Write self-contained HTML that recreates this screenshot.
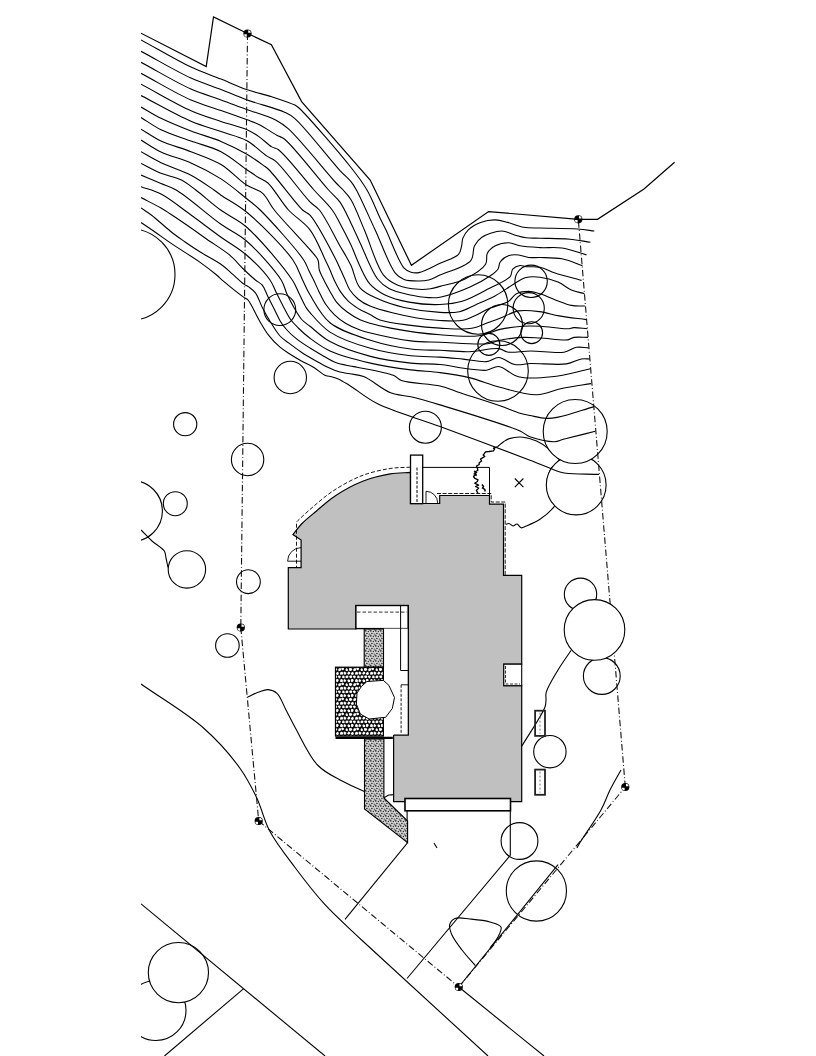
<!DOCTYPE html>
<html><head><meta charset="utf-8"><style>
html,body{margin:0;padding:0;background:#fff;}
body{width:816px;height:1056px;overflow:hidden;font-family:"Liberation Sans",sans-serif;}
svg{display:block;}
</style></head><body>
<svg width="816" height="1056" viewBox="0 0 816 1056">
<defs>
<clipPath id="clip"><rect x="141" y="0" width="675" height="1056"/></clipPath>
<pattern id="stip" width="5" height="5" patternUnits="userSpaceOnUse">
<rect width="5" height="5" fill="#d4d4d4"/>
<circle cx="0.8" cy="0.9" r="0.8" fill="#222"/><circle cx="3.4" cy="1.5" r="0.75" fill="#333"/>
<circle cx="1.9" cy="3.5" r="0.8" fill="#222"/><circle cx="4.3" cy="4.1" r="0.7" fill="#333"/>
<circle cx="4.6" cy="0.1" r="0.45" fill="#444"/><circle cx="0.2" cy="4.8" r="0.45" fill="#444"/>
</pattern>
<pattern id="stone" width="15" height="15" patternUnits="userSpaceOnUse">
<rect width="15" height="15" fill="#0a0a0a"/>
<path d="M1.8,3.3 L0.5,2.7 L0.6,1.3 L1.6,0.6 L3.3,0.8 L3.3,2.6 Z" fill="#fff"/>
<path d="M1.8,18.3 L0.5,17.7 L0.6,16.3 L1.6,15.6 L3.3,15.8 L3.3,17.6 Z" fill="#fff"/>
<path d="M16.8,3.3 L15.5,2.7 L15.6,1.3 L16.6,0.6 L18.3,0.8 L18.3,2.6 Z" fill="#fff"/>
<path d="M16.8,18.3 L15.5,17.7 L15.6,16.3 L16.6,15.6 L18.3,15.8 L18.3,17.6 Z" fill="#fff"/>
<path d="M5.3,3.1 L4.3,2.2 L4.2,1.2 L5.1,0.4 L6.8,0.6 L7.2,2.1 L6.4,3.3 Z" fill="#fff"/>
<path d="M5.3,18.1 L4.3,17.2 L4.2,16.2 L5.1,15.4 L6.8,15.6 L7.2,17.1 L6.4,18.3 Z" fill="#fff"/>
<path d="M7.7,1.4 L8.3,0.7 L9.5,0.4 L10.8,1.2 L10.6,2.6 L9.4,3.5 L8.8,3.0 Z" fill="#fff"/>
<path d="M7.7,16.4 L8.3,15.7 L9.5,15.4 L10.8,16.2 L10.6,17.6 L9.4,18.5 L8.8,18.0 Z" fill="#fff"/>
<path d="M-0.7,3.3 L-2.5,2.9 L-3.0,2.3 L-2.4,0.4 L-1.6,0.4 L-0.6,0.9 L-0.3,2.5 Z" fill="#fff"/>
<path d="M-0.7,18.3 L-2.5,17.9 L-3.0,17.3 L-2.4,15.4 L-1.6,15.4 L-0.6,15.9 L-0.3,17.5 Z" fill="#fff"/>
<path d="M14.3,3.3 L12.5,2.9 L12.0,2.3 L12.6,0.4 L13.4,0.4 L14.4,0.9 L14.7,2.5 Z" fill="#fff"/>
<path d="M14.3,18.3 L12.5,17.9 L12.0,17.3 L12.6,15.4 L13.4,15.4 L14.4,15.9 L14.7,17.5 Z" fill="#fff"/>
<path d="M2.3,5.4 L3.2,4.2 L5.0,5.0 L5.1,6.9 L3.2,7.3 Z" fill="#fff"/>
<path d="M6.7,7.2 L5.8,5.9 L6.1,4.3 L7.0,4.0 L8.1,4.1 L8.7,5.5 L7.9,6.7 Z" fill="#fff"/>
<path d="M-1.8,6.2 L-2.9,7.0 L-4.5,6.9 L-5.0,5.9 L-4.4,4.3 L-3.2,4.1 L-2.4,4.8 Z" fill="#fff"/>
<path d="M13.2,6.2 L12.1,7.0 L10.5,6.9 L10.0,5.9 L10.6,4.3 L11.8,4.1 L12.6,4.8 Z" fill="#fff"/>
<path d="M0.6,6.7 L-0.9,7.1 L-1.6,6.2 L-1.2,4.6 L-0.2,4.0 L1.3,5.4 Z" fill="#fff"/>
<path d="M15.6,6.7 L14.1,7.1 L13.4,6.2 L13.8,4.6 L14.8,4.0 L16.3,5.4 Z" fill="#fff"/>
<path d="M0.9,11.0 L0.5,9.3 L1.8,8.1 L3.0,9.8 L2.6,10.9 Z" fill="#fff"/>
<path d="M15.9,11.0 L15.5,9.3 L16.8,8.1 L18.0,9.8 L17.6,10.9 Z" fill="#fff"/>
<path d="M5.4,10.9 L4.1,10.6 L4.0,8.5 L4.8,8.1 L6.6,8.3 L7.3,9.5 L6.7,10.6 Z" fill="#fff"/>
<path d="M8.6,11.2 L8.2,9.7 L8.8,8.6 L10.4,8.1 L10.9,8.8 L11.2,10.2 L9.8,11.0 Z" fill="#fff"/>
<path d="M-3.9,8.8 L-2.9,7.5 L-1.0,8.2 L-1.3,10.0 L-2.8,10.3 Z" fill="#fff"/>
<path d="M11.1,8.8 L12.1,7.5 L14.0,8.2 L13.7,10.0 L12.2,10.3 Z" fill="#fff"/>
<path d="M2.2,-1.3 L3.3,-3.4 L5.1,-2.7 L5.4,-1.4 L3.5,-0.2 Z" fill="#fff"/>
<path d="M2.2,13.7 L3.3,11.6 L5.1,12.3 L5.4,13.6 L3.5,14.8 Z" fill="#fff"/>
<path d="M5.9,-0.8 L6.1,-2.3 L8.0,-3.2 L8.9,-1.8 L8.5,-0.5 L7.4,0.0 Z" fill="#fff"/>
<path d="M5.9,14.2 L6.1,12.7 L8.0,11.8 L8.9,13.2 L8.5,14.5 L7.4,15.0 Z" fill="#fff"/>
<path d="M-1.9,-0.8 L-2.5,-0.4 L-4.5,-0.2 L-5.0,-1.1 L-4.7,-2.7 L-3.2,-3.2 L-2.2,-2.8 Z" fill="#fff"/>
<path d="M-1.9,14.2 L-2.5,14.6 L-4.5,14.8 L-5.0,13.9 L-4.7,12.3 L-3.2,11.8 L-2.2,12.2 Z" fill="#fff"/>
<path d="M13.1,-0.8 L12.5,-0.4 L10.5,-0.2 L10.0,-1.1 L10.3,-2.7 L11.8,-3.2 L12.8,-2.8 Z" fill="#fff"/>
<path d="M13.1,14.2 L12.5,14.6 L10.5,14.8 L10.0,13.9 L10.3,12.3 L11.8,11.8 L12.8,12.2 Z" fill="#fff"/>
<path d="M-1.1,-0.7 L-1.5,-2.0 L-1.4,-2.8 L-0.2,-3.5 L1.0,-2.6 L1.4,-1.5 L0.3,-0.2 Z" fill="#fff"/>
<path d="M-1.1,14.3 L-1.5,13.0 L-1.4,12.2 L-0.2,11.5 L1.0,12.4 L1.4,13.5 L0.3,14.8 Z" fill="#fff"/>
<path d="M13.9,-0.7 L13.5,-2.0 L13.6,-2.8 L14.8,-3.5 L16.0,-2.6 L16.4,-1.5 L15.3,-0.2 Z" fill="#fff"/>
<path d="M13.9,14.3 L13.5,13.0 L13.6,12.2 L14.8,11.5 L16.0,12.4 L16.4,13.5 L15.3,14.8 Z" fill="#fff"/>
</pattern>
</defs>

<g clip-path="url(#clip)">
<path d="M497.4,446.8 C499.5,445.1 501.5,443.1 503.6,441.7 C505.5,440.4 506.8,439.3 509.2,438.6 C512.7,437.5 518.5,436.8 523.0,437.2 C527.6,437.6 532.3,439.2 536.6,441.1 C540.9,443.1 544.9,445.7 548.6,448.9 C552.7,452.5 560.4,458.7 560.0,462.0 C559.7,464.5 553.7,464.9 551.6,467.6 C549.2,470.7 548.5,475.9 547.0,480.0" fill="none" stroke="#000" stroke-width="1.1"/>
<path d="M558.0,500.0 C556.6,502.4 555.9,504.7 553.8,507.2 C550.7,510.9 544.8,516.0 540.0,519.2 C535.6,522.1 529.8,524.5 526.3,526.0 C524.2,526.9 522.7,528.1 521.2,527.8 C519.6,527.5 518.5,524.2 517.0,524.0 C515.7,523.8 514.3,526.1 513.0,526.0 C511.6,525.9 510.3,523.7 509.0,523.5 C507.9,523.3 506.9,524.0 505.8,524.3" fill="none" stroke="#000" stroke-width="1.1"/>
<path d="M478.0,493.4 L476.4,490.5 L478.6,488.0 L475.5,486.5 L478.6,485.2 L474.7,483.2 L477.4,481.5 L478.0,479.8 L474.5,478.2 L473.5,476.4 L476.0,474.5 L474.7,471.8 L477.8,470.5 L477.5,468.4 L476.5,466.0 L479.2,464.5 L479.2,462.7 L481.6,461.0 L480.5,459.0 L482.0,458.2 L484.8,456.5 L483.2,455.0 L484.3,453.6 L485.5,451.9 L489.0,451.5 L493.4,450.8 L494.5,449.1 L493.5,448.2 L497.4,446.8" fill="none" stroke="#000" stroke-width="1.35" stroke-linejoin="round"/>
<path d="M482.0,484.5 L483.5,486.5 L482.6,488.0 L484.8,489.5 L485.2,491.5" fill="none" stroke="#000" stroke-width="1.5"/>
<path d="M474.0,471.0 L476.5,472.5 L474.2,474.0 L476.8,475.5" fill="none" stroke="#000" stroke-width="1.2"/>
<circle cx="576.2" cy="485.0" r="29.9" fill="#fff" stroke="#000" stroke-width="1.1"/>
<circle cx="575.2" cy="431.5" r="32.0" fill="#fff" stroke="#000" stroke-width="1.1"/>
<path d="M141.0,39.9 C157.7,49.0 176.3,60.2 191.0,67.1 C202.1,72.3 211.4,75.2 221.0,79.1 C229.9,82.7 237.9,86.5 246.5,89.5 C254.8,92.4 263.5,94.1 271.7,96.7 C279.6,99.3 290.4,102.8 294.9,105.1 C296.9,106.2 297.0,106.2 299.0,108.0 C306.8,115.1 338.9,152.2 351.0,167.5 C358.2,176.6 362.3,181.9 367.0,190.0 C372.0,198.6 376.5,210.5 380.0,217.9 C382.3,222.8 383.5,224.8 386.0,230.0 C390.4,239.2 398.6,262.2 404.1,268.2 C406.5,270.8 408.5,271.5 411.0,272.2 C413.4,272.9 415.6,273.2 418.8,272.6 C424.2,271.6 433.2,266.4 440.0,263.3 C446.4,260.4 455.1,258.2 458.5,254.4 C460.8,251.9 460.9,248.6 461.6,245.8 C462.3,243.3 461.9,240.9 462.8,238.4 C463.9,235.5 465.7,232.3 468.3,229.8 C471.4,226.8 476.1,224.1 480.6,222.4 C485.2,220.7 490.7,219.8 495.4,219.9 C499.7,220.0 503.4,221.3 507.7,222.4 C512.7,223.7 518.3,226.4 523.7,227.3 C529.1,228.2 533.4,227.8 540.0,228.0 C550.0,228.3 567.6,228.3 577.6,229.0 C584.3,229.5 588.7,230.3 594.3,231.0" fill="none" stroke="#000" stroke-width="1.1"/>
<path d="M141.0,51.3 C157.7,60.2 176.3,71.4 191.0,78.1 C202.1,83.1 211.4,85.7 221.0,89.4 C229.9,92.9 237.1,96.3 246.5,99.7 C257.9,103.9 276.1,108.2 284.6,112.2 C289.3,114.4 290.6,114.9 294.9,118.6 C305.1,127.3 329.9,159.7 340.0,170.6 C344.8,175.8 348.1,178.1 351.0,181.7 C353.3,184.5 354.2,186.1 356.4,190.0 C361.0,198.3 368.8,216.4 375.2,230.0 C381.8,244.1 389.0,265.4 395.3,273.1 C398.3,276.8 400.6,278.2 404.1,279.5 C408.2,281.1 414.4,281.0 418.8,281.0 C422.4,281.0 425.3,280.9 428.6,280.0 C432.3,279.0 435.3,277.2 440.0,275.1 C447.8,271.6 465.6,267.0 470.8,260.6 C474.3,256.3 472.4,249.9 474.5,245.8 C476.3,242.3 478.4,239.5 481.9,237.2 C486.6,234.1 495.8,231.0 501.6,231.0 C506.2,231.0 509.8,233.6 513.9,234.7 C518.0,235.8 521.9,237.2 526.2,237.8 C530.6,238.4 534.5,238.0 540.0,238.2 C548.0,238.5 560.8,238.4 569.8,239.2 C577.3,239.9 583.5,241.2 590.4,242.2" fill="none" stroke="#000" stroke-width="1.1"/>
<path d="M141.0,62.3 C157.7,71.2 176.2,82.5 191.0,89.1 C202.1,94.0 211.4,96.4 221.0,99.9 C229.9,103.1 237.7,106.2 246.5,109.4 C255.9,112.8 268.0,116.0 275.6,119.9 C281.0,122.7 283.2,124.2 288.5,128.9 C299.8,139.0 327.2,173.5 336.1,183.0 C339.4,186.5 340.9,187.4 343.2,190.0 C345.8,192.9 348.3,195.3 351.0,199.7 C355.3,206.8 359.6,218.9 364.4,230.0 C370.3,243.5 376.2,266.0 383.5,275.1 C387.8,280.4 391.9,282.6 397.3,284.9 C403.4,287.6 412.7,288.8 418.8,289.3 C423.3,289.7 426.9,289.3 430.6,288.8 C433.9,288.3 436.1,287.5 440.0,286.4 C446.3,284.7 457.4,282.7 465.0,279.0 C472.5,275.3 482.3,269.6 485.6,264.3 C487.8,260.8 485.7,256.3 487.4,253.2 C489.0,250.2 492.1,247.5 495.4,245.8 C499.1,243.8 504.7,242.6 509.0,242.7 C512.9,242.8 515.7,245.0 520.0,245.8 C525.6,246.8 533.2,247.2 540.0,247.6 C547.2,248.0 554.5,246.9 562.0,248.0 C570.0,249.2 578.3,252.6 586.5,254.9" fill="none" stroke="#000" stroke-width="1.1"/>
<path d="M141.0,73.3 C157.7,82.2 176.2,93.6 191.0,100.1 C202.1,104.9 211.4,107.1 221.0,110.5 C229.9,113.6 239.5,117.0 246.5,119.6 C251.4,121.4 254.5,122.2 258.9,124.4 C264.5,127.1 272.1,132.6 276.9,135.3 C280.0,137.0 281.3,136.6 284.6,139.2 C293.7,146.3 318.6,179.0 328.6,190.0 C333.6,195.5 336.5,197.2 340.0,202.1 C344.1,207.9 347.6,216.3 351.0,223.2 C354.2,229.8 356.5,235.2 360.0,242.7 C364.9,253.0 371.4,271.1 377.6,279.0 C381.4,283.9 384.7,286.3 389.4,288.8 C394.9,291.7 402.4,293.2 409.0,294.7 C415.5,296.1 422.9,297.3 428.6,297.6 C432.9,297.8 435.4,298.0 440.0,297.2 C447.7,295.8 461.2,290.9 470.0,287.0 C477.5,283.7 485.0,279.5 490.0,276.0 C493.4,273.6 496.2,271.8 497.9,269.2 C499.4,267.0 498.7,263.9 500.3,261.8 C502.1,259.3 505.8,256.7 509.0,255.6 C512.0,254.5 515.5,254.7 518.8,255.0 C522.1,255.3 525.3,257.1 528.7,257.5 C532.3,257.9 535.6,257.4 540.0,257.5 C546.1,257.7 554.9,257.4 562.0,258.8 C569.0,260.2 575.7,263.4 582.5,265.7" fill="none" stroke="#000" stroke-width="1.1"/>
<path d="M141.0,84.2 C157.7,93.0 176.2,104.2 191.0,110.7 C202.1,115.6 211.4,118.2 221.0,121.4 C229.8,124.4 239.6,126.5 246.5,129.5 C251.5,131.7 254.8,133.8 258.9,136.6 C263.3,139.6 268.0,144.7 271.7,146.9 C274.1,148.3 275.5,147.6 278.2,149.5 C285.8,154.8 304.0,178.9 314.0,190.0 C321.1,197.9 327.6,203.8 332.2,210.0 C335.7,214.7 337.3,218.4 340.0,223.4 C343.4,229.7 347.6,237.8 351.0,245.0 C354.3,252.1 356.7,259.6 360.0,266.3 C363.0,272.5 365.6,279.1 369.8,283.9 C373.8,288.5 378.7,291.8 384.5,294.7 C391.4,298.1 400.3,300.5 409.0,302.1 C418.6,303.9 430.5,304.9 440.0,304.5 C448.3,304.2 455.2,303.4 463.0,301.0 C471.8,298.3 481.7,292.3 490.0,288.0 C497.3,284.2 506.8,280.7 510.2,276.6 C512.2,274.2 511.1,271.0 512.7,269.2 C514.3,267.3 517.6,265.8 520.0,265.5 C522.1,265.2 523.7,266.4 526.2,266.7 C529.9,267.1 535.4,266.3 540.0,267.3 C545.0,268.3 549.2,271.1 555.0,273.0 C562.6,275.5 572.7,277.9 581.6,280.4" fill="none" stroke="#000" stroke-width="1.1"/>
<path d="M141.0,95.6 C157.7,104.2 176.2,115.0 191.0,121.3 C202.1,126.0 211.4,128.3 221.0,131.6 C229.8,134.7 238.8,136.3 246.5,140.5 C254.0,144.5 261.1,152.2 266.6,155.9 C270.1,158.2 272.0,158.1 275.6,161.1 C283.8,168.0 301.9,193.7 310.0,201.9 C313.9,205.9 316.0,205.9 319.4,210.0 C325.5,217.4 334.2,235.7 340.0,245.9 C344.3,253.4 347.7,258.7 351.0,265.6 C354.4,272.7 355.1,282.1 360.0,287.8 C364.8,293.4 372.5,296.4 379.6,299.6 C387.1,303.0 395.1,305.4 404.1,307.5 C414.8,309.9 429.8,311.9 440.0,312.4 C447.4,312.8 453.4,313.0 459.4,311.7 C465.1,310.4 469.8,307.4 475.4,304.9 C481.6,302.2 488.6,299.4 495.0,296.0 C501.5,292.5 508.4,287.3 513.9,284.0 C518.1,281.5 520.9,279.0 525.0,277.8 C529.5,276.5 534.8,276.6 540.0,277.2 C545.8,277.8 552.6,279.7 558.0,282.0 C563.0,284.1 566.8,288.0 571.4,290.0 C575.6,291.8 580.1,292.5 584.4,293.7" fill="none" stroke="#000" stroke-width="1.1"/>
<path d="M141.0,107.0 C147.7,110.8 153.5,114.6 161.0,118.3 C169.9,122.7 180.9,127.1 191.0,131.0 C200.9,134.8 211.5,137.4 221.0,141.4 C230.0,145.2 239.1,149.7 246.5,154.0 C252.6,157.6 258.6,161.9 262.7,164.9 C265.4,166.9 266.4,167.3 269.2,170.0 C276.3,176.9 295.1,203.1 302.6,210.0 C305.7,212.9 307.2,212.1 310.0,215.2 C316.7,222.5 331.1,250.3 336.1,260.0 C338.4,264.5 339.2,266.8 340.7,270.0 C342.1,273.0 343.2,275.6 344.6,278.6 C346.2,282.1 347.5,286.3 349.7,289.7 C352.0,293.2 355.0,296.5 358.3,299.2 C361.7,302.0 364.6,303.8 370.0,306.0 C380.2,310.2 403.8,315.7 416.8,318.0 C425.8,319.6 432.3,320.1 440.0,320.5 C447.7,320.9 456.7,321.6 463.1,320.3 C467.9,319.3 471.2,317.3 475.4,315.4 C479.9,313.4 484.0,310.8 489.0,308.6 C494.9,306.0 503.9,304.2 508.7,301.2 C512.1,299.0 513.2,295.4 516.4,293.8 C519.8,292.0 524.7,291.4 528.7,291.4 C532.5,291.4 536.0,292.6 540.0,293.8 C544.8,295.2 550.2,298.0 555.4,299.9 C560.7,301.8 566.2,304.4 571.4,305.4 C576.1,306.3 580.5,305.8 585.0,306.0" fill="none" stroke="#000" stroke-width="1.1"/>
<path d="M141.0,117.5 C147.7,121.6 153.5,126.0 161.0,129.7 C169.8,134.0 181.0,137.3 191.0,141.0 C201.0,144.7 211.7,146.9 221.0,151.7 C230.2,156.4 239.5,164.7 246.5,169.5 C251.4,172.8 255.1,175.4 258.9,177.8 C262.1,179.8 264.6,180.1 267.9,183.0 C273.8,188.2 281.2,202.0 288.5,210.0 C295.3,217.4 304.0,221.9 310.0,229.8 C316.5,238.3 321.7,252.6 325.3,260.0 C327.4,264.2 328.5,266.6 330.0,270.0 C331.5,273.4 332.6,276.8 334.3,280.3 C336.1,284.0 338.0,287.9 340.3,291.4 C342.6,294.8 345.0,298.1 348.0,300.9 C351.0,303.8 354.7,306.3 358.3,308.6 C362.0,310.9 366.3,312.6 370.0,314.6 C373.4,316.4 375.5,318.5 379.9,320.0 C387.2,322.6 400.7,324.0 410.9,325.4 C420.7,326.7 430.1,327.6 440.0,328.1 C450.3,328.6 462.8,329.8 471.7,328.3 C478.4,327.2 483.9,324.0 489.0,322.2 C493.1,320.8 495.9,319.9 500.0,318.3 C505.4,316.3 512.0,312.0 518.5,310.9 C525.1,309.7 532.6,310.7 539.4,311.6 C546.1,312.4 552.0,314.6 559.1,315.9 C567.4,317.4 577.2,318.4 586.2,319.6" fill="none" stroke="#000" stroke-width="1.1"/>
<path d="M141.0,129.1 C147.7,133.1 153.5,137.5 161.0,141.1 C169.8,145.2 181.1,147.8 191.0,151.7 C201.1,155.6 211.8,159.0 221.0,164.5 C230.3,170.1 238.7,180.0 246.5,185.0 C252.3,188.8 258.1,189.3 262.7,193.3 C267.5,197.5 269.1,203.4 274.3,210.0 C282.7,220.6 302.5,240.7 310.0,249.7 C313.7,254.2 316.5,256.4 318.0,260.0 C319.3,263.2 318.4,266.7 319.3,270.0 C320.3,273.5 322.3,276.8 324.0,280.3 C325.8,284.0 327.9,287.7 330.0,291.4 C332.2,295.2 334.1,299.2 336.9,302.6 C339.8,306.1 343.4,309.2 347.2,312.0 C351.1,314.9 355.9,317.8 360.0,319.7 C363.5,321.3 366.0,322.0 370.0,323.2 C375.6,324.8 382.2,326.5 390.6,328.1 C403.5,330.5 424.5,333.6 440.0,334.8 C453.8,335.9 468.2,337.2 479.1,335.7 C487.3,334.6 492.9,331.0 500.0,329.4 C507.2,327.8 515.1,326.8 522.2,326.3 C528.6,325.9 533.9,326.0 540.6,326.3 C548.8,326.7 561.9,329.1 567.7,328.8 C570.5,328.7 571.4,327.7 573.9,327.6 C577.5,327.4 582.9,328.4 587.4,328.8" fill="none" stroke="#000" stroke-width="1.1"/>
<path d="M141.0,140.0 C147.7,144.0 153.5,148.4 161.0,152.0 C169.8,156.2 181.1,158.6 191.0,163.0 C201.2,167.5 211.6,172.9 221.0,178.9 C230.1,184.8 239.4,192.8 246.5,198.5 C251.8,202.8 254.6,204.5 260.2,210.0 C270.9,220.6 296.7,249.4 303.7,260.0 C306.6,264.4 307.0,266.8 308.6,270.0 C310.1,273.0 311.4,275.4 312.9,278.6 C314.8,282.4 316.8,287.1 318.9,291.4 C321.0,295.7 323.1,300.4 325.7,304.3 C328.2,308.1 331.1,311.5 334.3,314.6 C337.6,317.8 341.4,320.7 345.5,323.2 C349.9,325.9 355.5,328.3 360.0,330.0 C363.7,331.4 365.8,331.9 370.4,333.0 C379.4,335.2 398.5,339.4 410.9,340.9 C421.4,342.1 429.1,341.8 440.0,342.2 C453.9,342.7 477.1,345.0 487.7,343.7 C493.2,343.0 495.3,341.3 500.0,340.3 C506.3,339.0 515.1,337.7 522.2,337.4 C528.6,337.1 533.9,337.7 540.6,338.0 C548.8,338.4 561.9,340.8 567.7,339.9 C570.6,339.4 571.4,337.9 573.9,337.4 C577.6,336.7 583.3,337.4 588.0,337.4" fill="none" stroke="#000" stroke-width="1.1"/>
<path d="M141.0,151.7 C147.7,155.4 153.6,159.1 161.0,162.7 C169.9,167.0 181.9,170.4 191.0,175.2 C199.4,179.6 208.6,186.3 214.0,190.0 C217.1,192.1 217.9,193.0 221.0,195.2 C226.8,199.3 237.2,204.3 246.5,212.0 C260.2,223.4 283.7,246.8 292.9,260.0 C298.2,267.6 299.6,273.8 302.6,280.0 C305.2,285.3 306.6,289.2 310.0,294.8 C314.8,302.8 320.9,315.3 330.0,322.7 C340.3,331.0 356.7,335.8 370.4,340.2 C383.7,344.5 398.4,347.4 410.9,349.0 C421.3,350.4 430.3,349.9 440.0,350.3 C449.8,350.8 459.5,352.0 469.3,351.7 C479.1,351.4 492.0,347.7 498.8,348.6 C502.6,349.1 503.7,351.4 507.4,352.0 C513.2,353.0 522.3,351.0 530.8,351.0 C540.9,351.0 555.7,353.6 564.0,352.2 C569.2,351.3 572.2,348.0 576.4,347.3 C580.4,346.6 584.6,347.7 588.7,347.9" fill="none" stroke="#000" stroke-width="1.1"/>
<path d="M141.0,163.5 C147.7,166.8 154.2,170.5 161.0,173.3 C167.7,176.0 175.5,177.0 181.5,180.0 C186.9,182.7 190.4,186.0 195.8,190.0 C203.1,195.5 212.4,204.1 221.0,210.3 C229.3,216.4 237.4,219.0 246.5,227.0 C260.3,239.1 284.1,267.7 292.3,280.0 C296.1,285.7 296.9,289.1 299.2,293.7 C301.5,298.3 303.9,304.0 306.0,307.4 C307.4,309.6 308.0,310.4 310.0,312.6 C314.0,317.1 321.5,326.6 330.0,332.1 C340.6,339.0 356.7,344.4 370.4,348.3 C383.7,352.1 398.5,354.3 410.9,355.7 C421.4,356.9 430.9,356.5 440.0,357.1 C448.1,357.6 455.4,358.4 463.1,359.1 C470.9,359.9 480.0,362.3 486.5,361.6 C491.3,361.1 494.5,357.3 498.8,357.5 C503.8,357.7 509.3,363.5 514.8,364.5 C520.0,365.4 524.4,363.7 530.8,363.5 C540.3,363.3 557.3,365.3 566.5,363.9 C572.6,363.0 577.0,359.7 581.3,359.0 C584.5,358.5 587.1,359.0 590.0,359.0" fill="none" stroke="#000" stroke-width="1.1"/>
<path d="M141.0,175.1 C147.7,177.9 154.8,180.9 161.0,183.5 C166.4,185.8 170.1,186.4 176.2,190.0 C187.5,196.6 208.0,215.1 221.0,224.3 C230.5,231.1 237.9,233.5 246.5,241.0 C257.8,250.8 274.7,269.7 281.2,280.0 C284.7,285.7 284.9,289.8 287.2,294.6 C289.5,299.5 292.3,304.8 294.9,309.2 C297.1,313.0 299.1,316.6 301.7,319.5 C304.2,322.2 306.6,323.6 310.0,326.3 C315.2,330.4 321.8,337.1 330.0,341.6 C340.8,347.5 356.8,352.8 370.4,356.4 C383.7,359.9 398.5,361.8 410.9,363.1 C421.4,364.2 430.3,363.5 440.0,364.5 C449.8,365.5 460.8,368.1 469.3,369.0 C475.8,369.7 481.3,370.8 486.5,370.2 C491.0,369.7 494.3,366.1 498.8,366.5 C504.7,367.1 510.8,374.9 518.5,376.8 C527.9,379.1 540.3,378.0 551.7,376.8 C564.2,375.5 577.6,371.5 590.5,368.8" fill="none" stroke="#000" stroke-width="1.1"/>
<path d="M141.0,186.7 C147.7,189.1 153.9,190.3 161.0,194.0 C170.3,198.8 181.0,207.8 191.0,215.0 C201.0,222.2 211.4,230.3 221.0,237.2 C229.8,243.5 238.5,248.1 246.5,255.0 C254.9,262.3 265.0,272.9 270.0,280.0 C273.1,284.5 273.9,287.9 276.0,292.0 C278.2,296.4 280.5,301.2 282.9,305.7 C285.3,310.3 287.8,315.6 290.6,319.5 C293.0,322.8 295.4,325.1 298.3,328.0 C301.7,331.4 305.4,334.9 310.0,338.3 C315.6,342.5 321.9,347.3 330.0,351.0 C340.9,356.0 356.8,359.9 370.4,363.1 C383.8,366.2 398.5,368.3 410.9,369.9 C421.4,371.3 430.3,371.3 440.0,372.6 C449.8,373.9 459.5,375.2 469.3,377.6 C479.5,380.1 489.2,384.5 500.0,387.3 C511.7,390.3 525.9,395.0 536.9,394.7 C546.0,394.5 553.0,390.3 561.6,388.5 C571.0,386.6 581.3,385.2 591.1,383.6" fill="none" stroke="#000" stroke-width="1.1"/>
<path d="M141.0,197.6 C147.7,201.1 155.6,204.9 161.0,208.0 C164.8,210.2 166.6,211.5 170.4,214.0 C176.2,217.8 185.9,224.4 192.5,229.0 C197.9,232.8 201.8,235.7 207.2,239.5 C213.8,244.1 222.8,249.4 229.2,254.7 C234.8,259.4 239.2,265.0 243.9,269.5 C247.9,273.4 252.0,277.2 255.4,280.0 C257.9,282.1 260.4,282.8 262.3,285.1 C264.5,287.7 265.6,291.7 267.4,295.4 C269.5,299.7 272.1,304.8 274.3,309.2 C276.4,313.3 278.1,317.6 280.3,321.2 C282.3,324.5 284.3,327.1 286.9,330.0 C289.8,333.2 293.5,336.5 297.2,339.4 C301.1,342.5 305.7,345.3 310.0,348.0 C314.3,350.7 318.6,353.2 322.9,355.7 C327.1,358.1 331.2,360.9 335.7,362.6 C340.2,364.3 346.1,365.2 350.0,366.0 C352.7,366.6 353.8,366.6 357.0,367.2 C364.4,368.7 385.7,372.1 393.3,375.3 C397.2,376.9 397.5,379.1 401.4,380.6 C409.3,383.6 429.8,383.6 440.0,386.0 C446.9,387.6 450.0,389.4 456.9,391.7 C468.0,395.4 488.4,401.7 500.0,405.8 C508.0,408.6 514.4,411.7 520.0,413.3 C523.9,414.4 526.3,414.8 530.0,415.5 C534.7,416.4 541.0,418.1 546.0,418.3 C550.4,418.5 553.2,418.1 558.3,417.1 C567.2,415.4 582.1,410.1 594.0,406.6" fill="none" stroke="#000" stroke-width="1.1"/>
<path d="M141.0,207.9 C144.4,210.3 147.4,212.0 151.3,215.0 C156.8,219.2 164.4,226.4 170.4,231.2 C175.5,235.3 180.2,238.5 185.1,242.0 C190.0,245.4 194.4,248.4 199.8,251.8 C206.4,256.0 216.1,260.8 221.9,265.0 C226.1,268.0 228.7,270.7 232.2,273.8 C236.0,277.1 240.8,281.8 243.9,284.1 C245.7,285.4 246.9,285.7 248.6,286.9 C250.7,288.5 253.4,290.2 255.4,292.9 C258.1,296.5 259.9,302.7 262.3,307.4 C264.7,312.1 267.2,316.6 270.0,321.2 C273.0,326.1 276.5,332.2 280.0,336.0 C282.8,339.0 285.4,340.5 288.6,342.9 C292.4,345.8 297.1,349.4 301.4,352.3 C305.6,355.1 310.0,357.6 314.3,360.0 C318.6,362.4 322.9,364.9 327.2,366.9 C331.4,368.9 335.9,370.8 340.0,372.0 C343.5,373.0 346.4,373.1 350.0,373.8 C354.2,374.6 358.6,374.6 363.7,376.6 C371.4,379.6 382.0,389.5 390.6,392.8 C397.6,395.5 403.6,395.1 410.9,396.8 C419.8,398.9 427.9,401.3 440.0,404.9 C460.1,411.0 506.2,424.8 520.0,431.0 C525.1,433.3 525.8,435.2 530.0,436.8 C536.2,439.2 548.5,441.9 554.6,441.7 C558.3,441.6 559.5,440.3 563.3,439.3 C570.6,437.4 584.6,434.0 595.3,431.3" fill="none" stroke="#000" stroke-width="1.1"/>
<path d="M141.0,222.5 C145.7,225.7 150.2,228.7 155.0,232.0 C160.0,235.5 164.4,238.8 170.4,242.9 C178.6,248.5 191.5,256.3 199.8,262.1 C206.1,266.6 211.7,270.9 216.0,274.5 C219.0,277.0 220.3,278.5 223.4,281.2 C228.5,285.5 239.7,294.5 243.9,297.4 C245.6,298.6 246.3,298.3 247.7,299.7 C251.0,303.1 256.0,314.9 259.7,321.2 C262.7,326.3 265.0,330.6 268.3,334.9 C271.7,339.3 276.2,344.0 280.0,347.2 C283.0,349.7 285.4,351.1 288.6,353.2 C292.4,355.7 297.1,358.5 301.4,360.9 C305.7,363.3 310.2,365.2 314.3,367.7 C318.2,370.1 322.2,374.1 325.5,375.5 C327.7,376.4 329.5,376.2 331.5,376.7 C333.7,377.3 335.8,377.8 338.3,378.9 C341.7,380.4 345.3,382.8 350.0,385.7 C357.2,390.2 365.9,397.9 377.2,403.6 C393.5,411.8 417.2,418.1 440.0,426.5 C467.3,436.6 508.1,451.8 530.0,460.2 C542.7,465.1 553.8,470.1 560.0,472.0 C562.7,472.8 563.2,472.9 566.0,473.3 C572.6,474.1 588.0,474.0 599.0,474.4" fill="none" stroke="#000" stroke-width="1.1"/>
<path d="M141.0,33.2 L206.2,66.5 L213.5,17.0 L247.5,33.5 L271.4,44.6 L301.6,101.6 L370.2,180.0 L411.4,265.3 L488.6,211.6 L578.3,219.3 L597.5,219.3 L644.0,188.9 L674.6,162.3" fill="none" stroke="#000" stroke-width="1.2" stroke-linejoin="miter"/>
<circle cx="129.0" cy="274.5" r="46.0" fill="none" stroke="#000" stroke-width="1.1"/>
<circle cx="279.8" cy="309.6" r="15.9" fill="none" stroke="#000" stroke-width="1.1"/>
<circle cx="290.3" cy="377.5" r="16.2" fill="none" stroke="#000" stroke-width="1.1"/>
<circle cx="185.2" cy="424.2" r="11.6" fill="none" stroke="#000" stroke-width="1.1"/>
<circle cx="247.6" cy="459.5" r="16.2" fill="none" stroke="#000" stroke-width="1.1"/>
<circle cx="132.0" cy="511.0" r="30.4" fill="none" stroke="#000" stroke-width="1.1"/>
<circle cx="175.3" cy="503.7" r="12.0" fill="none" stroke="#000" stroke-width="1.1"/>
<circle cx="186.9" cy="569.4" r="18.7" fill="none" stroke="#000" stroke-width="1.1"/>
<circle cx="248.4" cy="581.7" r="11.9" fill="none" stroke="#000" stroke-width="1.1"/>
<circle cx="227.4" cy="645.5" r="11.8" fill="none" stroke="#000" stroke-width="1.1"/>
<circle cx="425.4" cy="427.2" r="16.0" fill="none" stroke="#000" stroke-width="1.1"/>
<circle cx="478.1" cy="304.5" r="29.7" fill="none" stroke="#000" stroke-width="1.1"/>
<circle cx="531.1" cy="281.3" r="16.2" fill="none" stroke="#000" stroke-width="1.1"/>
<circle cx="528.7" cy="308.2" r="15.6" fill="none" stroke="#000" stroke-width="1.1"/>
<circle cx="502.0" cy="325.0" r="20.5" fill="none" stroke="#000" stroke-width="1.1"/>
<circle cx="531.7" cy="332.7" r="10.9" fill="none" stroke="#000" stroke-width="1.1"/>
<circle cx="488.8" cy="344.4" r="11.0" fill="none" stroke="#000" stroke-width="1.1"/>
<circle cx="498.0" cy="371.0" r="30.3" fill="none" stroke="#000" stroke-width="1.1"/>
<circle cx="549.9" cy="751.7" r="16.2" fill="none" stroke="#000" stroke-width="1.1"/>
<circle cx="519.5" cy="841.0" r="18.4" fill="none" stroke="#000" stroke-width="1.1"/>
<circle cx="536.4" cy="891.0" r="30.1" fill="none" stroke="#000" stroke-width="1.1"/>
<circle cx="156.0" cy="1010.5" r="30.0" fill="none" stroke="#000" stroke-width="1.1"/>
<circle cx="601.8" cy="676.0" r="18.4" fill="none" stroke="#000" stroke-width="1.1"/>
<circle cx="580.5" cy="594.3" r="16.2" fill="none" stroke="#000" stroke-width="1.1"/>
<circle cx="178.4" cy="972.6" r="30.1" fill="#fff" stroke="#000" stroke-width="1.1"/>
<path d="M141.0,684.0 C161.8,698.7 186.1,712.6 203.5,728.0 C218.2,741.0 231.0,755.7 240.3,768.7 C247.6,778.8 251.9,787.8 256.8,798.0 C261.8,808.5 263.9,820.0 269.7,831.0 C276.3,843.4 286.3,855.9 295.4,868.0 C304.7,880.4 314.2,892.9 325.0,904.7 C336.2,916.9 349.4,928.2 361.6,940.0 L488,1056" fill="none" stroke="#000" stroke-width="1.1"/>
<path d="M141,903.8 L325,1056" fill="none" stroke="#000" stroke-width="1.1"/>
<path d="M243.4,988.8 L164.5,1056" fill="none" stroke="#000" stroke-width="1.1"/>
<path d="M458.8,987 L544,1056" fill="none" stroke="#000" stroke-width="1.1"/>
<path d="M407.1,811 L407.1,843.3 L345,919.4" fill="none" stroke="#000" stroke-width="1.1"/>
<path d="M510.3,811 L510.3,855.4 L407,978.5" fill="none" stroke="#000" stroke-width="1.1"/>
<path d="M558,864.6 L458.8,987" fill="none" stroke="#000" stroke-width="1.1"/>
<path d="M621.0,770.0 C617.3,776.7 613.4,783.3 610.0,790.0 C606.7,796.6 605.0,802.7 601.0,810.0 C595.7,819.7 583.8,836.1 580.0,842.5 C578.5,845.1 578.0,846.2 577.0,848.0" fill="none" stroke="#000" stroke-width="1.1"/>
<path d="M141.0,530.0 C144.7,533.7 148.1,537.5 152.0,541.0 C155.9,544.5 162.1,547.6 164.3,551.0 C165.8,553.3 165.4,555.5 166.0,558.0 C166.7,560.9 167.3,564.3 168.0,567.5" fill="none" stroke="#000" stroke-width="1.1"/>
<path d="M247.6,697.0 C251.4,695.3 255.4,693.3 259.0,692.0 C262.1,690.9 265.0,689.4 268.0,689.6 C271.0,689.8 274.4,690.9 277.0,693.3 C280.7,696.6 283.0,704.3 286.0,710.0 C289.1,715.9 291.5,721.0 295.4,728.0 C301.1,738.2 309.0,756.1 317.5,765.0 C324.2,772.0 330.7,775.0 339.6,779.7 C351.5,786.0 377.7,798.0 383.4,797.8 C384.8,797.7 385.1,796.9 386.0,796.5 C387.0,796.0 387.9,795.3 389.0,795.0 C390.2,794.7 391.7,794.9 393.0,794.8" fill="none" stroke="#000" stroke-width="1.1"/>
<path d="M571.2,650.2 C566.8,656.8 562.1,663.1 558.0,670.0 C553.8,677.1 547.7,686.8 546.2,692.4 C545.4,695.5 546.2,697.5 546.0,700.0 C545.8,702.4 546.1,703.9 545.0,707.0 C542.2,715.0 529.5,733.2 521.7,746.3" fill="none" stroke="#000" stroke-width="1.1"/>
<path d="M514.8,478.5 L523.4,487.1 M523.4,478.5 L514.8,487.1" fill="none" stroke="#000" stroke-width="1.1"/>
<path d="M475.4,965.7 C470.9,960.5 466.0,955.3 462.0,950.0 C458.3,945.1 454.0,939.7 452.0,935.0 C450.5,931.5 448.9,927.8 449.6,925.0 C450.2,922.4 452.4,919.7 455.0,918.5 C458.5,916.9 464.7,918.5 470.0,919.0 C476.2,919.6 484.4,920.3 490.0,922.0 C494.3,923.3 499.8,924.3 501.0,927.0 C502.1,929.5 499.6,933.7 498.0,937.0 C496.1,940.7 492.7,944.3 490.0,948.0" fill="none" stroke="#000" stroke-width="1.1"/>
<path d="M434,843 L437,848" fill="none" stroke="#000" stroke-width="1.1"/>
</g>
<path d="M247.5,33.5 L240.8,627.5" fill="none" stroke="#111" stroke-width="1.1" stroke-dasharray="6.5,2.4,0.9,2.4"/>
<path d="M240.8,627.5 L258.7,821.0" fill="none" stroke="#111" stroke-width="1.1" stroke-dasharray="6.5,2.4,0.9,2.4"/>
<path d="M258.7,821.0 L458.8,987.0" fill="none" stroke="#111" stroke-width="1.1" stroke-dasharray="6.5,2.4,0.9,2.4"/>
<path d="M458.8,987.0 L625.3,787.0" fill="none" stroke="#111" stroke-width="1.1" stroke-dasharray="6.5,2.4,0.9,2.4"/>
<path d="M625.3,787.0 L578.3,219.3" fill="none" stroke="#111" stroke-width="1.1" stroke-dasharray="6.5,2.4,0.9,2.4"/>
<circle cx="594.5" cy="629.9" r="30.3" fill="#fff" stroke="#000" stroke-width="1.1"/>
<path d="M410.5,472.4 C403.8,472.9 397.5,472.7 390.3,473.9 C381.8,475.3 371.7,477.7 362.7,481.3 C353.3,485.0 343.1,490.7 335.1,496.0 C328.1,500.6 322.5,505.9 316.8,510.7 C311.6,515.1 306.2,519.2 302.0,523.5 C298.4,527.2 295.9,530.9 292.9,534.6 L301.1,540 L301.1,567.6 L288.3,567.6 L288.3,629 L355.9,629 L355.9,605.5 L408.3,605.5 L408.3,670.5 L408.3,735 L393.6,735 L393.6,801.7 L521.7,801.7 L521.7,685.7 L503.8,685.7 L503.8,664.2 L521.7,664.2 L521.7,575.4 L503.5,575.4 L503.5,504.1 L489.5,504.1 L489.5,495.5 L439.7,495.5 L439.7,503.5 L422.6,503.5 L410.5,503.5 Z" fill="#c0c0c0" stroke="#000" stroke-width="1.2"/>
<rect x="410.5" y="455.1" width="12.2" height="48.6" fill="#fff" stroke="#000" stroke-width="1.3"/>
<path d="M417,467.5 V503" fill="none" stroke="#000" stroke-width="1" stroke-dasharray="3,1.5"/>
<path d="M410.5,467.2 C403.7,467.6 397.4,467.3 390.0,468.5 C381.1,469.9 370.4,472.3 361.0,476.0 C351.4,479.8 341.2,485.6 333.0,491.0 C325.8,495.7 319.8,501.1 314.0,506.0 C308.8,510.4 302.5,516.2 299.5,519.0 C298.1,520.3 297.5,521.0 296.5,522.0 L296.5,567.6" fill="none" stroke="#000" stroke-width="0.9" stroke-dasharray="4,2"/>
<path d="M287.6,561.2 A13.6,13.6 0 0,1 301.1,547.6 M287.6,561.2 H301.1" fill="none" stroke="#000" stroke-width="0.9"/>
<path d="M422.6,467.4 H489.5 V495.5" fill="none" stroke="#000" stroke-width="1"/>
<path d="M426,503 V491.3 A11.7,11.7 0 0,1 437.7,503" fill="none" stroke="#000" stroke-width="0.9"/>
<path d="M437,493.5 H491.2 V502 H505.2 V575" fill="none" stroke="#000" stroke-width="0.9" stroke-dasharray="4,1.6"/>
<path d="M505.5,666 V684" fill="none" stroke="#000" stroke-width="0.8" stroke-dasharray="3,1.5"/>
<rect x="503.8" y="664.2" width="17.9" height="21.5" fill="#fff" stroke="#000" stroke-width="1.1"/>
<path d="M505.5,666 V684 H520" fill="none" stroke="#000" stroke-width="0.8" stroke-dasharray="3,1.5"/>
<rect x="355.9" y="605.5" width="52.4" height="23.1" fill="#fff" stroke="#000" stroke-width="1.4"/>
<path d="M357,612.1 H407" fill="none" stroke="#333" stroke-width="1" stroke-dasharray="3.5,2"/>
<rect x="383.5" y="628.6" width="24.8" height="106.4" fill="#fff"/>
<path d="M400.6,605.5 V670.5 H408" fill="none" stroke="#000" stroke-width="1"/>
<path d="M401.1,684.8 V733.9" fill="none" stroke="#000" stroke-width="0.9" stroke-dasharray="3,1.5"/>
<path d="M401.1,684.8 H408.3" fill="none" stroke="#000" stroke-width="0.9"/>
<path d="M408.3,605.5 V735 H393.6" fill="none" stroke="#000" stroke-width="1.2"/>
<rect x="364.2" y="629" width="19.3" height="38.2" fill="url(#stip)" stroke="#000" stroke-width="1.1"/>
<rect x="335.5" y="667.2" width="47.9" height="68.9" fill="url(#stone)" stroke="#000" stroke-width="1.2"/>
<path d="M335.5,737.8 H392.8" fill="none" stroke="#000" stroke-width="2.2"/>
<path d="M366.9,681.5 L383.4,680.4 L388.9,685.4 L394.5,697.5 L392.3,708.5 L385.6,717.3 L369.1,719.0 L360.3,714.0 L356.4,704.1 L357.0,693.1 L361.4,686.5 Z" fill="#fff" stroke="#000" stroke-width="1"/>
<path d="M364.5,739 H383.9 V798 L407.6,821 V842.6 L364.5,809 Z" fill="url(#stip)" stroke="#000" stroke-width="1.1"/>
<rect x="405" y="798.5" width="105.5" height="12.3" fill="#fff" stroke="#000" stroke-width="1.6"/>
<rect x="535.1" y="710.7" width="9.9" height="25.2" fill="none" stroke="#222" stroke-width="1.8"/>
<path d="M540,712.7 V733.7" fill="none" stroke="#555" stroke-width="0.8" stroke-dasharray="2,2"/>
<rect x="535.1" y="769.6" width="9.9" height="25.2" fill="none" stroke="#222" stroke-width="1.8"/>
<path d="M540,771.6 V792.6" fill="none" stroke="#555" stroke-width="0.8" stroke-dasharray="2,2"/>
<g><circle cx="247.5" cy="33.5" r="4.1" fill="#000"/><path d="M248.2,32.8 h2.6 a2.6,2.6 0 0,0 -2.6,-2.6 z" fill="#fff"/><path d="M246.8,34.2 h-2.6 a2.6,2.6 0 0,0 2.6,2.6 z" fill="#fff"/></g>
<g><circle cx="578.3" cy="219.3" r="4.1" fill="#000"/><path d="M579.0,218.6 h2.6 a2.6,2.6 0 0,0 -2.6,-2.6 z" fill="#fff"/><path d="M577.6,220.0 h-2.6 a2.6,2.6 0 0,0 2.6,2.6 z" fill="#fff"/></g>
<g><circle cx="240.8" cy="627.5" r="4.1" fill="#000"/><path d="M241.5,626.8 h2.6 a2.6,2.6 0 0,0 -2.6,-2.6 z" fill="#fff"/><path d="M240.1,628.2 h-2.6 a2.6,2.6 0 0,0 2.6,2.6 z" fill="#fff"/></g>
<g><circle cx="258.7" cy="821.0" r="4.1" fill="#000"/><path d="M259.4,820.3 h2.6 a2.6,2.6 0 0,0 -2.6,-2.6 z" fill="#fff"/><path d="M258.0,821.7 h-2.6 a2.6,2.6 0 0,0 2.6,2.6 z" fill="#fff"/></g>
<g><circle cx="625.3" cy="787.0" r="4.1" fill="#000"/><path d="M626.0,786.3 h2.6 a2.6,2.6 0 0,0 -2.6,-2.6 z" fill="#fff"/><path d="M624.6,787.7 h-2.6 a2.6,2.6 0 0,0 2.6,2.6 z" fill="#fff"/></g>
<g><circle cx="458.8" cy="987.0" r="4.1" fill="#000"/><path d="M459.5,986.3 h2.6 a2.6,2.6 0 0,0 -2.6,-2.6 z" fill="#fff"/><path d="M458.1,987.7 h-2.6 a2.6,2.6 0 0,0 2.6,2.6 z" fill="#fff"/></g>
</svg></body></html>
